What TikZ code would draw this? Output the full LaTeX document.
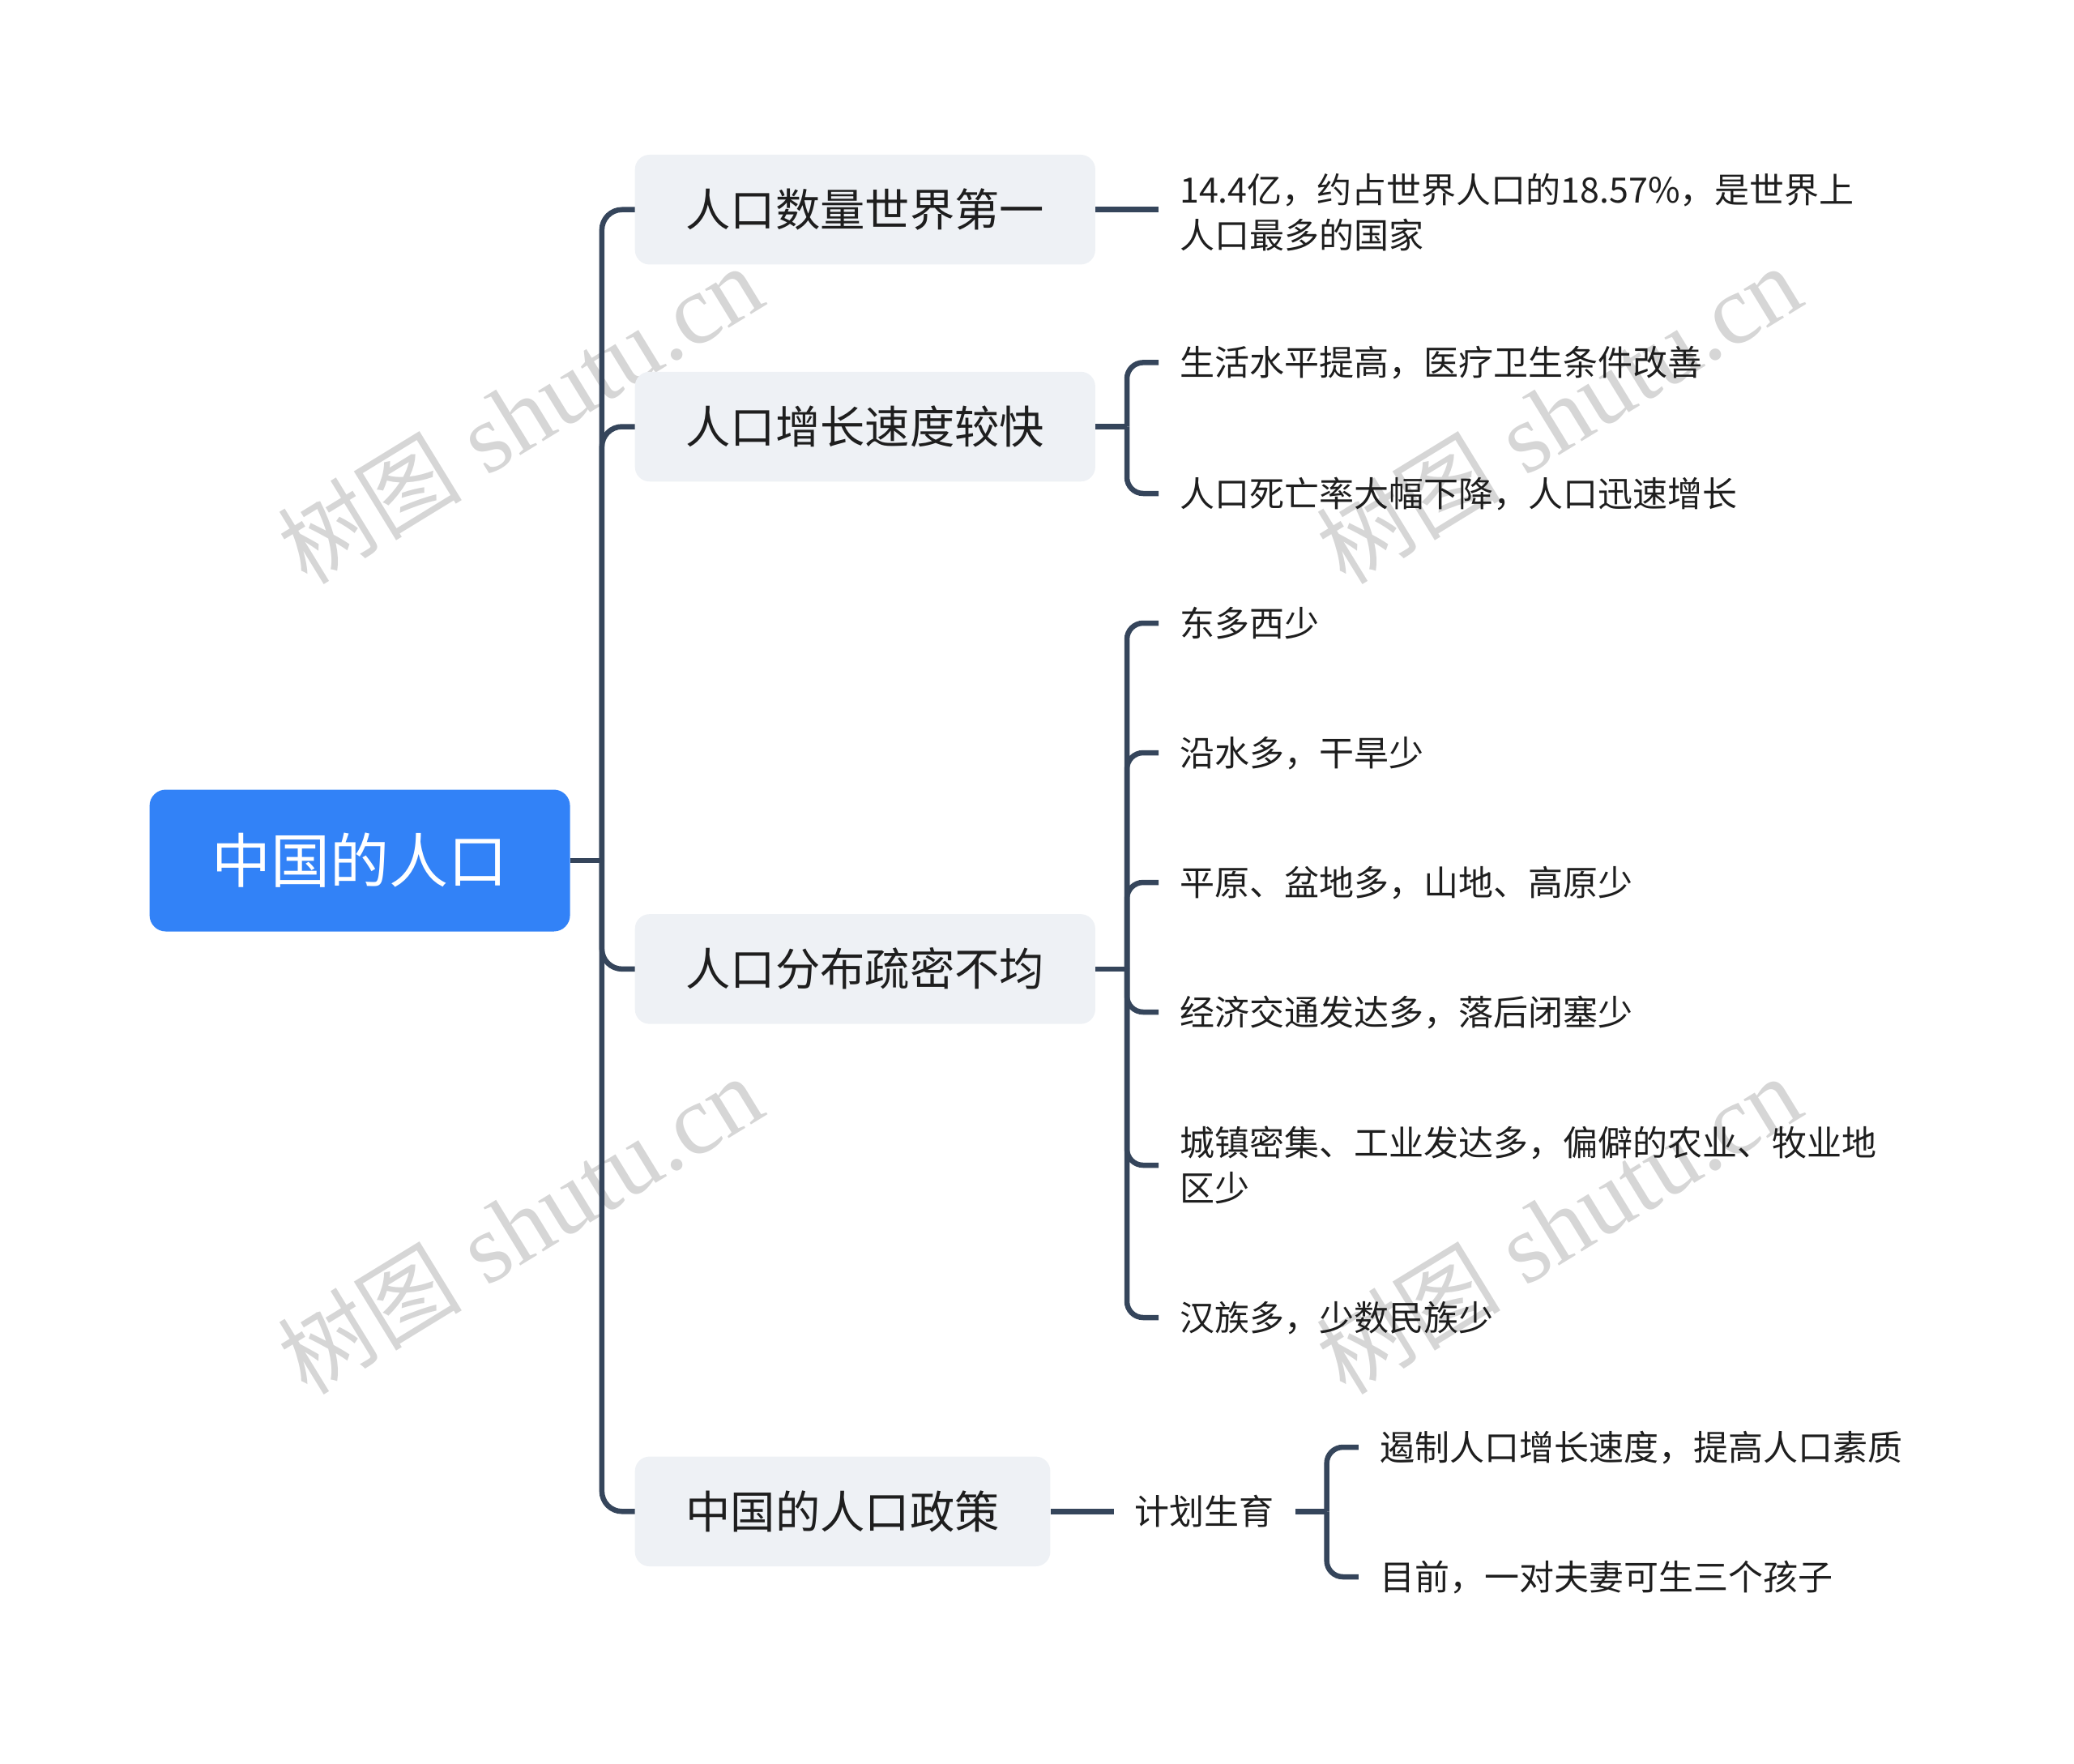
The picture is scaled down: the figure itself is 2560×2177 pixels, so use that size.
\documentclass[tikz,border=0pt]{standalone}
\usepackage{fontspec}
\setmainfont{Noto Sans CJK SC}
\newfontfamily\wmcjk{Noto Sans CJK SC}
\newfontfamily\wmlat{Liberation Serif}
\definecolor{rootblue}{HTML}{3282F7}
\definecolor{boxgray}{HTML}{EEF1F5}
\definecolor{linec}{HTML}{35455B}
\definecolor{txt}{HTML}{1E1E1E}
\definecolor{wmc}{HTML}{D6D6D6}
\newcommand{\wmtext}{{\wmcjk\fontsize{114}{130}\selectfont 树图}{\wmlat\fontsize{122}{130}\selectfont\ shutu.cn}}
\begin{document}
\begin{tikzpicture}[x=1pt,y=-1pt,
  rootbox/.style={fill=rootblue, rounded corners=20pt, minimum width=519pt, minimum height=175pt,
    text=white, inner sep=0pt, font=\fontsize{73}{80}\selectfont, text height=64.2pt, text depth=8.8pt},
  topic/.style={fill=boxgray, rounded corners=18pt, minimum height=135.5pt, inner sep=0pt,
    text=txt, font=\fontsize{55.3}{62}\selectfont, text height=48.7pt, text depth=6.6pt},
  leafbase/.style={anchor=west, inner xsep=26pt, inner ysep=0pt, text=txt, font=\fontsize{43}{55.5}\selectfont},
  leaf/.style={leafbase, text height=37.8pt, text depth=5.2pt},
  leafm/.style={leafbase, align=left},
  conn/.style={draw=linec, line width=6.5pt},
  wm/.style={text=wmc, rotate=31.5, inner sep=0pt}
]
\useasboundingbox (0,0) rectangle (2560,2177);

% watermarks
\node[wm] (wm1) at (642,512) {\wmtext};
\node[wm] (wm2) at (1924,512) {\wmtext};
\node[wm] (wm3) at (642,1512) {\wmtext};
\node[wm] (wm4) at (1924,1512) {\wmtext};

% nodes
\node[rootbox] (root) at (444.1,1062) {中国的人口};
\node[topic, minimum width=568.2pt] (b1) at (1067.8,258.7) {人口数量世界第一};
\node[topic, minimum width=568.2pt] (b2) at (1067.8,526.5) {人口增长速度较快};
\node[topic, minimum width=568.2pt] (b3) at (1067.8,1195.9) {人口分布疏密不均};
\node[topic, minimum width=512.7pt] (b4) at (1040.05,1865.3) {中国的人口政策};

\node[leafm] (l1) at (1430,262) {14.4亿，约占世界人口的18.57\%，是世界上\\人口最多的国家};
\node[leaf] (l21) at (1430,447.4) {生活水平提高，医疗卫生条件改善};
\node[leaf] (l22) at (1430,609) {人口死亡率大幅下降，人口迅速增长};
\node[leaf] (l31) at (1430,769) {东多西少};
\node[leaf] (l32) at (1430,929) {沿水多，干旱少};
\node[leaf] (l33) at (1430,1089) {平原、盆地多，山地、高原少};
\node[leaf] (l34) at (1430,1249) {经济交通发达多，落后闭塞少};
\node[leafm] (l35) at (1430,1438) {城镇密集、工业发达多，偏僻的农业、牧业地\\区少};
\node[leaf] (l36) at (1430,1626) {汉族多，少数民族少};
\node[leaf] (l4) at (1374.7,1865.3) {计划生育};
\node[leaf] (l41) at (1676.8,1786) {遏制人口增长速度，提高人口素质};
\node[leaf] (l42) at (1676.8,1946) {目前，一对夫妻可生三个孩子};

% junctions
\coordinate (sp) at (742.9,1062);
\coordinate (j2) at (1391,526.5);
\coordinate (j3) at (1391,1195.9);
\coordinate (j4) at (1637.6,1865.3);

% connectors
\draw[conn] (root.east) -- (sp);
\foreach \b in {b1,b2,b3,b4} \draw[conn, rounded corners=25pt] (sp) |- (\b.west);
\draw[conn] (b1.east) -- (l1.west |- b1.east);
\draw[conn] (b2.east) -- (j2);
\foreach \c in {l21,l22} \draw[conn, rounded corners=20pt] (j2) |- (\c.west);
\draw[conn] (b3.east) -- (j3);
\foreach \c in {l31,l32,l33,l34,l35,l36} \draw[conn, rounded corners=20pt] (j3) |- (\c.west);
\draw[conn] (b4.east) -- (l4.west);
\draw[conn] (l4.east) -- (j4);
\foreach \c in {l41,l42} \draw[conn, rounded corners=20pt] (j4) |- (\c.west);
\end{tikzpicture}
\end{document}
